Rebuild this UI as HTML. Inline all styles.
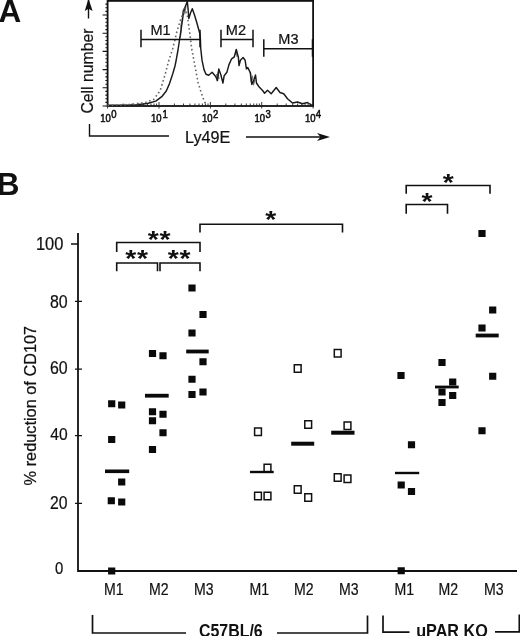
<!DOCTYPE html>
<html><head><meta charset="utf-8"><title>Figure</title>
<style>
html,body{margin:0;padding:0;background:#fff;}
body{width:520px;height:636px;overflow:hidden;position:relative;}
svg{display:block;position:absolute;left:0;top:0;}
text{font-family:"Liberation Sans",sans-serif;fill:#111;stroke:#111;stroke-width:0.22px;}
.h{stroke-width:0.55px;}
.b{font-weight:bold;stroke-width:0 !important;}
</style></head><body>
<svg width="520" height="636" viewBox="0 0 520 636">
<rect width="520" height="636" fill="#fff"/>
<text class="b" transform="translate(-1.4,21.5)" font-size="31.5">A</text>
<text class="b" transform="translate(-3.3,194.5)" font-size="31.5">B</text>
<rect x="107.6" y="0.9" width="205.5" height="105.1" fill="none" stroke="#111" stroke-width="1.8"/>
<path d="M102.6 106.0H107.6M105.4 102.4H107.6M105.4 98.7H107.6M105.4 95.1H107.6M105.4 91.4H107.6M102.6 87.8H107.6M105.4 84.2H107.6M105.4 80.5H107.6M105.4 76.9H107.6M105.4 73.2H107.6M102.6 69.6H107.6M105.4 66.0H107.6M105.4 62.3H107.6M105.4 58.7H107.6M105.4 55.0H107.6M102.6 51.4H107.6M105.4 47.8H107.6M105.4 44.1H107.6M105.4 40.5H107.6M105.4 36.8H107.6M102.6 33.2H107.6M105.4 29.6H107.6M105.4 25.9H107.6M105.4 22.3H107.6M105.4 18.6H107.6M102.6 15.0H107.6M105.4 11.4H107.6M105.4 7.7H107.6M105.4 4.1H107.6" stroke="#111" stroke-width="1.1" fill="none"/>
<path d="M107.6 106V102.0M107.6 106V108.5M123.1 106V103.5M123.1 106V106.0M132.1 106V103.5M132.1 106V106.0M138.5 106V103.5M138.5 106V106.0M143.5 106V103.5M143.5 106V106.0M147.6 106V103.5M147.6 106V106.0M151.0 106V103.5M151.0 106V106.0M154.0 106V103.5M154.0 106V106.0M156.6 106V103.5M156.6 106V106.0M159.0 106V102.0M159.0 106V108.5M174.4 106V103.5M174.4 106V106.0M183.5 106V103.5M183.5 106V106.0M189.9 106V103.5M189.9 106V106.0M194.9 106V103.5M194.9 106V106.0M199.0 106V103.5M199.0 106V106.0M202.4 106V103.5M202.4 106V106.0M205.4 106V103.5M205.4 106V106.0M208.0 106V103.5M208.0 106V106.0M210.4 106V102.0M210.4 106V108.5M225.8 106V103.5M225.8 106V106.0M234.9 106V103.5M234.9 106V106.0M241.3 106V103.5M241.3 106V106.0M246.3 106V103.5M246.3 106V106.0M250.3 106V103.5M250.3 106V106.0M253.8 106V103.5M253.8 106V106.0M256.7 106V103.5M256.7 106V106.0M259.4 106V103.5M259.4 106V106.0M261.7 106V102.0M261.7 106V108.5M277.2 106V103.5M277.2 106V106.0M286.2 106V103.5M286.2 106V106.0M292.7 106V103.5M292.7 106V106.0M297.6 106V103.5M297.6 106V106.0M301.7 106V103.5M301.7 106V106.0M305.1 106V103.5M305.1 106V106.0M308.1 106V103.5M308.1 106V106.0M310.7 106V103.5M310.7 106V106.0M313.1 106V108.5" stroke="#222" stroke-width="0.9" fill="none"/>
<polyline fill="none" stroke="#777" stroke-width="1.1" stroke-linejoin="round" points="180.3,38 181.3,30 180.8,26 182.3,18 182.8,11 184.3,8 184.8,14 186,6"/>
<polyline fill="none" stroke="#777" stroke-width="1.1" stroke-linejoin="round" points="216.5,74 217,81 218,72 219,79"/>
<polyline fill="none" stroke="#777" stroke-width="1.1" stroke-linejoin="round" points="250,72 251,82 252.5,76 253.5,85 255,80"/>
<polyline fill="none" stroke="#777" stroke-width="1.1" stroke-linejoin="round" points="235,55 236,50 237,57"/>
<polyline fill="none" stroke="#1a1a1a" stroke-width="1.45" stroke-linejoin="round" points="107.5,105.3 125,105.2 136.7,104.8 147.3,103.5 155.8,101.1 162.1,96.3 166.3,91 169.5,83.6 172.7,74 175,66 176.2,60 178,50 179.5,40 181,30 182.5,20 183.6,11.5 185.5,6 187.3,1.5 188,8 188.8,18.5 190.5,13 192.3,8.7 194.5,15 196.9,23 199.8,33.5 200.4,39.2 200.7,48 202,60.2 204,69.6 206,74.3 208.7,75.3 212.1,72.3 215.5,76.3 217.5,80.4 218.8,68.9 220.9,75 222.9,83 224.2,75.7 226.9,72.3 228.9,64.9 231.6,58.8 234.3,56.8 236.3,49.4 238.4,57.5 239,65.6 240.4,60.2 243.1,57.5 245.1,60.2 246.4,68.9 247.8,67.6 250.5,73 251.8,84.4 253.8,80.4 255.5,75 256.5,83 259.2,87.1 262.6,90.5 264.6,93.2 267.5,90.3 271.2,93.7 276.2,87.5 280,92.5 283.7,93.7 287.5,98.7 292.5,103 297.5,102 302.5,103.7 307.5,102.5 311.2,105 313,105.3"/>
<polyline fill="none" stroke="#666" stroke-width="1.6" stroke-dasharray="1.6 2.6" stroke-linejoin="round" points="107.5,105.3 130,104.5 145,102.5 153.7,99.4 160,91 165.3,74 168.5,61.4 172.7,48.7 176.9,31.7 180.1,21.2 183.3,12.7 185.4,8.5 187.5,16.9 189.6,31.7 191.7,48.7 194.9,65.6 198.1,82.5 201.3,93 204.4,101.5 206.5,105.1"/>
<path d="M141 29.799999999999997V47.3M200 29.799999999999997V47.3M141 39.4H200M221 29.799999999999997V47.3M253 29.799999999999997V47.3M221 39.4H253M263.8 39.2V56.7M312.5 39.2V56.7M263.8 48.800000000000004H312.5" stroke="#111" stroke-width="1.5" fill="none"/>
<text transform="translate(150.5,35.3) scale(0.97,1)" font-size="15">M1</text>
<text transform="translate(225.8,35.3) scale(0.97,1)" font-size="15">M2</text>
<text transform="translate(278.3,44.2) scale(0.97,1)" font-size="15">M3</text>
<text class="h" transform="translate(100.3,122.1) scale(0.88,1)" font-size="10.8">10<tspan dy="-4" dx="0.4">0</tspan></text>
<text class="h" transform="translate(151.0,122.1) scale(0.88,1)" font-size="10.8">10<tspan dy="-4" dx="1.2">1</tspan></text>
<text class="h" transform="translate(202.0,122.1) scale(0.88,1)" font-size="10.8">10<tspan dy="-4" dx="0.4">2</tspan></text>
<text class="h" transform="translate(254.5,122.1) scale(0.88,1)" font-size="10.8">10<tspan dy="-4" dx="0.4">3</tspan></text>
<text class="h" transform="translate(304.9,122.1) scale(0.88,1)" font-size="10.8">10<tspan dy="-4" dx="0.4">4</tspan></text>
<text transform="translate(185,142.8) scale(0.98,1)" font-size="16.5">Ly49E</text>
<text transform="translate(92.9,113.6) rotate(-90) scale(0.93,1)" font-size="17">Cell number</text>
<path d="M88.5 18.5V0" stroke="#111" stroke-width="1.4" fill="none"/><path d="M88.5 -1.5L84.8 11L88.5 8.8L92.6 11Z" fill="#111"/>
<path d="M89.5 124V136H169M246 137H322" stroke="#111" stroke-width="1.4" fill="none"/><path d="M330 137L317 133L320.5 137L317 141Z" fill="#111"/>
<path d="M78 233V571.8M77.2 571H517" stroke="#111" stroke-width="1.8" fill="none"/>
<path d="M71 244H78M75 301.4H82M75 369.1H82M75 435.7H82M75 503.3H82" stroke="#111" stroke-width="1.3" fill="none"/>
<text transform="translate(63.3,249.7) scale(0.94,1)" font-size="17.5" text-anchor="end">100</text>
<text transform="translate(67.6,307.6) scale(0.885,1)" font-size="18" text-anchor="end">80</text>
<text transform="translate(67.6,373.7) scale(0.885,1)" font-size="18" text-anchor="end">60</text>
<text transform="translate(67.6,440.1) scale(0.92,1)" font-size="17" text-anchor="end">40</text>
<text transform="translate(67.6,508.8) scale(0.9,1)" font-size="17.5" text-anchor="end">20</text>
<text transform="translate(63.4,574.0) scale(0.93,1)" font-size="16" text-anchor="end">0</text>
<text transform="translate(35.8,485.4) rotate(-90) scale(0.96,1)" font-size="17">% reduction of CD107</text>
<text transform="translate(104.1,594.7) scale(0.83,1)" font-size="17" stroke-width="0.4">M1</text>
<text transform="translate(149.1,594.7) scale(0.83,1)" font-size="17" stroke-width="0.4">M2</text>
<text transform="translate(194.1,594.7) scale(0.83,1)" font-size="17" stroke-width="0.4">M3</text>
<text transform="translate(249.6,594.7) scale(0.83,1)" font-size="17" stroke-width="0.4">M1</text>
<text transform="translate(294.1,594.7) scale(0.83,1)" font-size="17" stroke-width="0.4">M2</text>
<text transform="translate(339.1,594.7) scale(0.83,1)" font-size="17" stroke-width="0.4">M3</text>
<text transform="translate(394.6,594.7) scale(0.83,1)" font-size="17" stroke-width="0.4">M1</text>
<text transform="translate(438.6,594.7) scale(0.83,1)" font-size="17" stroke-width="0.4">M2</text>
<text transform="translate(484.1,594.7) scale(0.83,1)" font-size="17" stroke-width="0.4">M3</text>
<path d="M188.4 284.5h7.2v7.0h-7.2zM199.4 311.0h7.2v7.0h-7.2zM188.4 329.5h7.2v7.0h-7.2zM199.4 358.2h7.2v7.0h-7.2zM188.4 375.7h7.2v7.0h-7.2zM188.4 391.0h7.2v7.0h-7.2zM199.4 388.5h7.2v7.0h-7.2zM148.9 350.0h7.2v7.0h-7.2zM159.4 352.2h7.2v7.0h-7.2zM148.9 408.2h7.2v7.0h-7.2zM159.4 410.7h7.2v7.0h-7.2zM148.9 417.2h7.2v7.0h-7.2zM159.4 429.2h7.2v7.0h-7.2zM148.9 446.0h7.2v7.0h-7.2zM108.1 400.2h7.2v7.0h-7.2zM118.1 401.5h7.2v7.0h-7.2zM108.1 436.0h7.2v7.0h-7.2zM118.1 478.5h7.2v7.0h-7.2zM107.7 497.2h7.2v7.0h-7.2zM118.1 498.5h7.2v7.0h-7.2zM108.1 567.5h7.2v7.0h-7.2zM478.4 230.0h7.2v7.0h-7.2zM489.1 306.5h7.2v7.0h-7.2zM478.4 324.5h7.2v7.0h-7.2zM489.1 372.7h7.2v7.0h-7.2zM478.4 427.2h7.2v7.0h-7.2zM438.4 359.0h7.2v7.0h-7.2zM449.1 378.5h7.2v7.0h-7.2zM438.4 388.5h7.2v7.0h-7.2zM449.1 392.0h7.2v7.0h-7.2zM438.4 399.0h7.2v7.0h-7.2zM397.4 372.0h7.2v7.0h-7.2zM407.9 441.2h7.2v7.0h-7.2zM397.6 481.5h7.2v7.0h-7.2zM407.9 488.0h7.2v7.0h-7.2zM397.6 567.2h7.2v7.0h-7.2z" fill="#0a0a0a"/>
<path d="M254.6 428.0h6.8v7.4h-6.8zM264.1 464.3h6.8v7.4h-6.8zM254.6 492.3h6.8v7.4h-6.8zM264.1 492.3h6.8v7.4h-6.8zM294.3 364.8h6.8v7.4h-6.8zM304.8 420.8h6.8v7.4h-6.8zM294.3 485.8h6.8v7.4h-6.8zM304.8 493.8h6.8v7.4h-6.8zM334.3 349.5h6.8v7.4h-6.8zM344.1 422.0h6.8v7.4h-6.8zM334.3 473.8h6.8v7.4h-6.8zM344.1 475.0h6.8v7.4h-6.8z" fill="#fff" stroke="#111" stroke-width="1.5"/>
<rect x="105" y="469.50" width="24.2" height="3.6" fill="#0a0a0a"/>
<rect x="145" y="393.80" width="23.7" height="3.8" fill="#0a0a0a"/>
<rect x="186.2" y="349.60" width="22.5" height="3.8" fill="#0a0a0a"/>
<rect x="250" y="470.80" width="23.7" height="2.4" fill="#0a0a0a"/>
<rect x="291.2" y="441.70" width="23.0" height="4.0" fill="#0a0a0a"/>
<rect x="331.2" y="430.70" width="23.3" height="4.0" fill="#0a0a0a"/>
<rect x="395" y="471.80" width="24.2" height="2.4" fill="#0a0a0a"/>
<rect x="435" y="385.60" width="23.7" height="2.8" fill="#0a0a0a"/>
<rect x="475.7" y="333.60" width="23.0" height="3.8" fill="#0a0a0a"/>
<path d="M116.7 252V242.5H200V252M116.7 271.2V263H157.5V271.2M160 271.2V263H200V271.2M200 232.5V224.2H342.5V232.5M406.2 193.7V185.5H490V193.7M406.2 213.7V204.5H447.5V213.7" stroke="#111" stroke-width="1.6" fill="none"/>
<text class="b" transform="translate(159.5,247.5) scale(1.03,0.85)" font-size="27.5" text-anchor="middle" letter-spacing="0.6" stroke-width="0">**</text>
<text class="b" transform="translate(137,266.5) scale(1.03,0.85)" font-size="27.5" text-anchor="middle" letter-spacing="0.6" stroke-width="0">**</text>
<text class="b" transform="translate(179.5,266.5) scale(1.03,0.85)" font-size="27.5" text-anchor="middle" letter-spacing="0.6" stroke-width="0">**</text>
<text class="b" transform="translate(271,227.5) scale(1.03,0.85)" font-size="27.5" text-anchor="middle" letter-spacing="0.6" stroke-width="0">*</text>
<text class="b" transform="translate(448.5,191.3) scale(1.03,0.85)" font-size="27.5" text-anchor="middle" letter-spacing="0.6" stroke-width="0">*</text>
<text class="b" transform="translate(427.2,209.8) scale(1.03,0.85)" font-size="27.5" text-anchor="middle" letter-spacing="0.6" stroke-width="0">*</text>
<path d="M92.5 615V633H186M277 633H367.5V615.5M383 615.5V632.1H409.5M495 631.8H519.3V614.5" stroke="#111" stroke-width="1.7" fill="none"/>
<text class="b" transform="translate(199,637.4) scale(0.885,1)" font-size="18">C57BL/6</text>
<text class="b" transform="translate(416.2,637.4) scale(0.9,1)" font-size="18">uPAR KO</text>
</svg>
</body></html>
